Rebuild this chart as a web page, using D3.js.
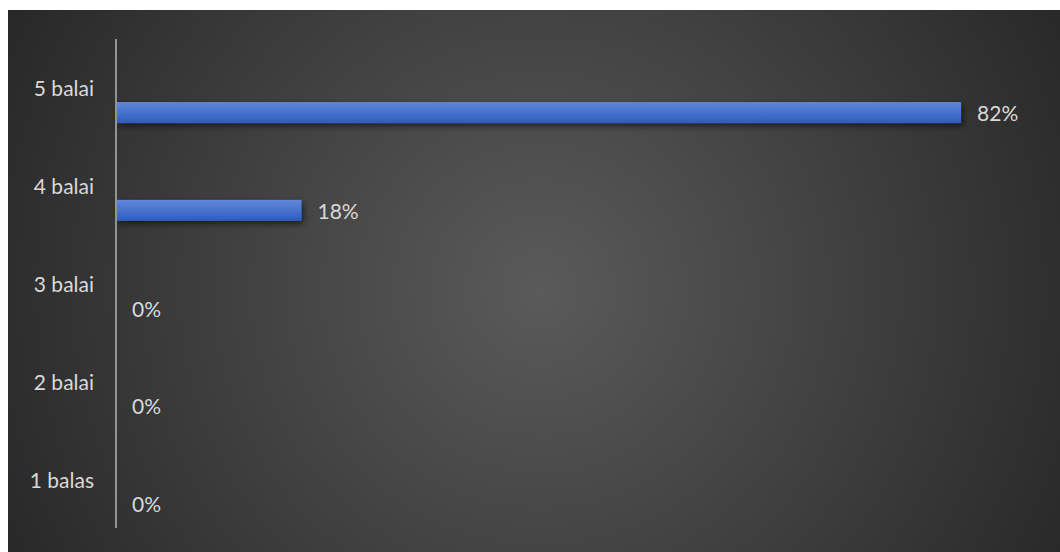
<!DOCTYPE html>
<html><head><meta charset="utf-8">
<script src="https://cdn.jsdelivr.net/npm/d3@7"></script>
<style>html,body{margin:0;padding:0;background:#fff;}svg{display:block;}</style>
</head><body>
<svg id="chart" width="1060" height="552"></svg>
<script>
const categories = ["5 balai", "4 balai", "3 balai", "2 balai", "1 balas"];
const values = [0.82, 0.18, 0, 0, 0];
const valueLabels = ["82%", "18%", "0%", "0%", "0%"];

const svg = d3.select("#chart");
const W = 1060, H = 552;
const defs = svg.append("defs");

const bg = defs.append("radialGradient").attr("id", "bg")
  .attr("gradientUnits", "userSpaceOnUse")
  .attr("cx", 540).attr("cy", 290).attr("r", 620);
bg.append("stop").attr("offset", "0%").attr("stop-color", "#5a5a5a");
bg.append("stop").attr("offset", "100%").attr("stop-color", "#262626");

const barG = defs.append("linearGradient").attr("id", "barG")
  .attr("x1", 0).attr("y1", 0).attr("x2", 0).attr("y2", 1);
barG.append("stop").attr("offset", "0%").attr("stop-color", "#6088d9");
barG.append("stop").attr("offset", "100%").attr("stop-color", "#2d5cbe");

const sh = defs.append("filter").attr("id", "shadow")
  .attr("x", "-5%").attr("y", "-50%").attr("width", "110%").attr("height", "220%");
sh.append("feDropShadow").attr("dx", 2).attr("dy", 3).attr("stdDeviation", 3)
  .attr("flood-color", "#000").attr("flood-opacity", 0.55);

svg.append("rect").attr("x", 8).attr("y", 10).attr("width", W - 8).attr("height", H - 10)
  .attr("fill", "url(#bg)");

const y = d3.scaleBand().domain(categories).range([39, 528]).padding(0);
const x = d3.scaleLinear().domain([0, 0.9]).range([116, 1043.5]);

const font = "Lato, 'Open Sans', sans-serif";
const fs = 21;

// category labels
svg.append("g").selectAll("text").data(categories).join("text")
  .attr("x", 94).attr("y", d => y(d) + y.bandwidth() / 2)
  .attr("text-anchor", "end").attr("dominant-baseline", "central")
  .attr("font-family", font).attr("font-size", fs).attr("fill", "#d9d9d9")
  .text(d => d);

const data = categories.map((c, i) => ({c, v: values[i], l: valueLabels[i]}));
const barTop = d => y(d.c) + y.bandwidth() * 0.645;
const barH = y.bandwidth() * 0.215;

svg.append("g").selectAll("rect").data(data.filter(d => d.v > 0)).join("rect")
  .attr("x", x(0)).attr("y", barTop)
  .attr("width", d => x(d.v) - x(0)).attr("height", barH)
  .attr("fill", "url(#barG)").attr("filter", "url(#shadow)");

// axis line
svg.append("line").attr("x1", x(0)).attr("x2", x(0)).attr("y1", 39).attr("y2", 528)
  .attr("stroke", "#939393").attr("stroke-width", 2);

svg.append("g").selectAll("text").data(data).join("text")
  .attr("x", d => x(d.v) + 16).attr("y", d => barTop(d) + barH / 2)
  .attr("dominant-baseline", "central")
  .attr("font-family", font).attr("font-size", fs).attr("fill", "#d9d9d9")
  .text(d => d.l);
</script>
</body></html>
